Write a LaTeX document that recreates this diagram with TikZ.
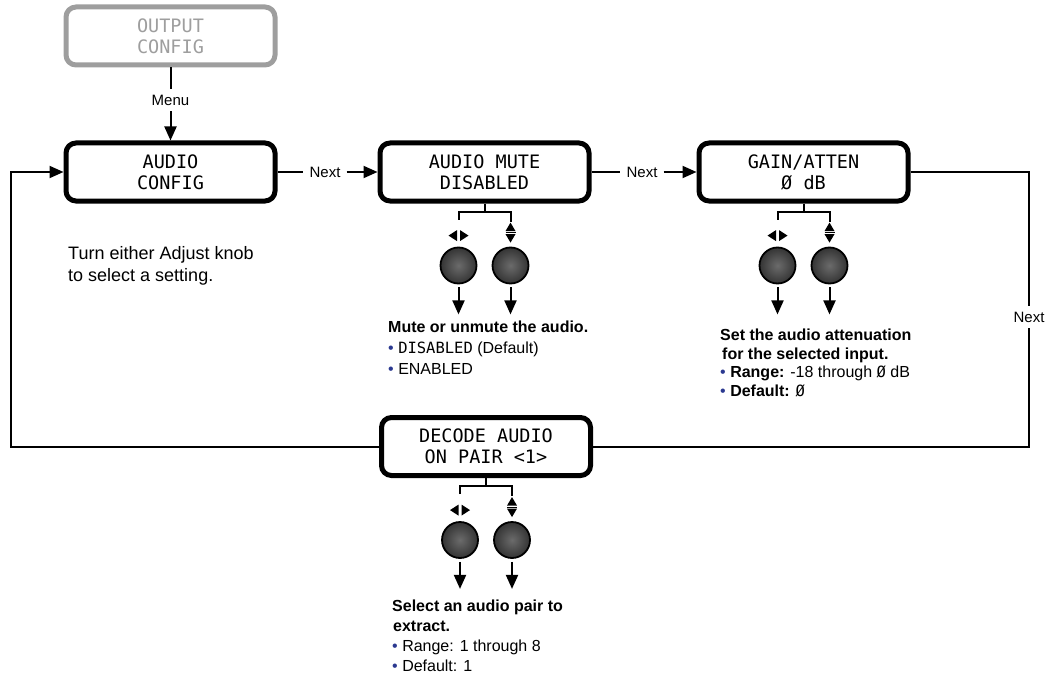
\documentclass[tikz,border=0pt]{standalone}
\usepackage{fontspec}
\setmainfont{Liberation Sans}
\newfontfamily\lcdfont{DejaVu Sans Mono}
\usetikzlibrary{arrows.meta}
\definecolor{menugray}{HTML}{9E9E9E}
\definecolor{bulletblue}{HTML}{2B3990}
\definecolor{knobhi}{HTML}{6B6B6B}
\definecolor{knoblo}{HTML}{343434}
\newcommand{\bul}{\textcolor{bulletblue}{\textbullet}\ }
\newcommand{\lcdtxt}[1]{{\lcdfont\fontsize{15.5}{19}\selectfont #1}}
\newcommand{\notehead}[1]{{\bfseries #1}}
\tikzset{
  lcdbox/.style={draw, line width=5pt, rounded corners=10pt, minimum width=209pt,
    minimum height=58pt, inner sep=0pt, align=center,
    font=\lcdfont\fontsize{18.5}{21}\selectfont},
  wire/.style={line width=2pt},
  tip/.style={-{Triangle[length=14pt,width=12pt]}},
  lbl/.style={inner sep=6pt, font=\fontsize{15}{18}\selectfont},
  knob/.style={circle, draw=black, line width=1.8pt, minimum size=36pt, inner sep=0pt,
    inner color=knobhi, outer color=knoblo},
  note/.style={anchor=north west, inner sep=0pt, align=left, font=\fontsize{16}{20}\selectfont},
}
\begin{document}
\begin{tikzpicture}[x=1pt,y=1pt]
\useasboundingbox (0,0) rectangle (1052,-674);
\node[lcdbox,draw=menugray,text=menugray] (outcfg) at (170.5,-36) {OUTPUT\\CONFIG};
\node[lcdbox] (audcfg) at (170.5,-172) {AUDIO\\CONFIG};
\node[lcdbox] (mute) at (484.5,-172) {AUDIO MUTE\\DISABLED};
\node[lcdbox] (gain) at (803.5,-172) {GAIN/ATTEN\\Ø dB};
\node[lcdbox] (decode) at (486,-446.5) {DECODE AUDIO\\ON PAIR <1>};
\node[lbl] (menu) at (170.5,-100) {Menu};
\node[lbl] (next1) at (325,-172) {Next};
\node[lbl] (next2) at (642,-172) {Next};
\node[lbl] (next3) at (1029,-317) {Next};
\coordinate (backcorner) at (11,-446.5);
\draw[wire] (outcfg.south) -- (menu.north);
\draw[wire,tip] (menu.south) -- (audcfg.north);
\draw[wire] (audcfg.east) -- (next1.west);
\draw[wire,tip] (next1.east) -- (mute.west);
\draw[wire] (mute.east) -- (next2.west);
\draw[wire,tip] (next2.east) -- (gain.west);
\draw[wire] (gain.east) -| (next3.north);
\draw[wire] (next3.south) |- (decode.east);
\draw[wire,tip] (decode.west) -- (backcorner) |- (audcfg.west);
\foreach \b in {mute,gain,decode}{
  \node[knob] (\b-lk) at ([xshift=-26pt,yshift=-62pt]\b.south) {};
  \node[knob] (\b-rk) at ([xshift=26pt,yshift=-62pt]\b.south) {};
  \coordinate (\b-fork) at ([yshift=-8pt]\b.south);
  \coordinate (\b-la) at ([yshift=-30pt]\b-lk.south);
  \coordinate (\b-ra) at ([yshift=-30pt]\b-rk.south);
  \draw[wire] (\b.south) -- (\b-fork);
  \draw[wire] ([yshift=27pt]\b-lk.north) |- (\b-fork) -| ([yshift=25pt]\b-rk.north);
  \fill[shift={([yshift=11pt]\b-lk.north)}] (-1.5,5.5) -- (-10,0) -- (-1.5,-5.5) -- cycle
    (1.5,5.5) -- (10,0) -- (1.5,-5.5) -- cycle;
  \fill[shift={([yshift=14pt]\b-rk.north)}] (-5,1.5) -- (0,10) -- (5,1.5) -- cycle
    (-5,-1.5) -- (0,-10) -- (5,-1.5) -- cycle;
  \draw[line width=1pt,shift={([yshift=14pt]\b-rk.north)}] (-5,0) -- (5,0);
  \draw[wire,tip] ([yshift=-3pt]\b-lk.south) -- (\b-la);
  \draw[wire,tip] ([yshift=-3pt]\b-rk.south) -- (\b-ra);
}
\node[note,font=\fontsize{18}{22}\selectfont] (turnnote) at (68,-246.5)
  {Turn either Adjust knob\\to select a setting.};
\node[note,font=\fontsize{16}{21}\selectfont] (mutenote) at (388,-321)
  {\notehead{Mute or unmute the audio.}\\
   \bul\lcdtxt{DISABLED} (Default)\\
   \bul ENABLED};
\node[note,font=\fontsize{16}{18.5}\selectfont] (gainnote) at (720,-329)
  {\notehead{Set the audio attenuation}\\
   \notehead{\hspace{2pt}for the selected input.}\\
   \bul\textbf{Range:} -18 through \lcdtxt{Ø} dB\\
   \bul\textbf{Default:} \lcdtxt{Ø}};
\node[note,font=\fontsize{16}{20}\selectfont] (decodenote) at (392,-600)
  {\notehead{Select an audio pair to}\\
   \notehead{\hspace{1pt}extract.}\\
   \bul Range: 1 through 8\\
   \bul Default: 1};
\end{tikzpicture}
\end{document}
